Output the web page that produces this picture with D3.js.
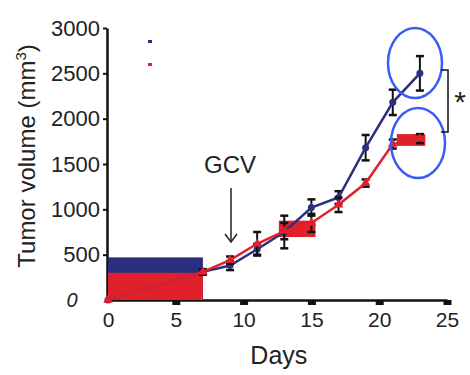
<!DOCTYPE html>
<html>
<head>
<meta charset="utf-8">
<script src="https://cdn.jsdelivr.net/npm/d3@7"></script>
<style>
  body { margin: 0; background: #fff; }
  text { font-family: "Liberation Sans", Arial, sans-serif; fill: #222; }
</style>
</head>
<body>
<svg id="chart" width="470" height="375"></svg>
<script>
const days = [0, 7, 9, 11, 13, 15, 17, 19, 21, 23];
const blueVals = [0, 310, 380, 560, 750, 1020, 1130, 1680, 2180, 2500];
const blueErr  = [0, 30, 50, 60, 180, 90, 70, 140, 140, 190];
const redVals  = [0, 310, 440, 620, 760, 850, 1050, 1290, 1720, 1780];
const redErr   = [0, 30, 40, 130, 90, 100, 80, 40, 50, 50];
const xTicks = [0, 5, 10, 15, 20, 25];
const yTicks = [500, 1000, 1500, 2000, 2500, 3000];
// patches that sit over the plot in the source figure: [day0, day1, v0, v1, colour]
const patches = [
  [0, 7, 0, 470, "#2b2f80"],
  [0, 7, 0, 300, "#e0202a"],
  [12.6, 15.3, 695, 875, "#e0202a"],
  [21.3, 23.4, 1700, 1830, "#e0202a"]
];

const svg = d3.select("#chart");
const x = d3.scaleLinear().domain([0, 25]).range([108, 447]);
const y = d3.scaleLinear().domain([0, 3000]).range([300, 28]);

// axes
const xAxis = svg.append("g").attr("transform", "translate(0,300)")
  .call(d3.axisBottom(x).tickValues(xTicks).tickSize(0).tickPadding(12));
xAxis.select(".domain").attr("stroke", "#111").attr("stroke-width", 2.5);
xAxis.selectAll("text").attr("font-size", 21).attr("font-family", "Liberation Sans, Arial").attr("fill", "#222");
xAxis.selectAll(".tick").filter(d => d > 0).append("rect")
  .attr("x", -4).attr("y", 0).attr("width", 8).attr("height", 5).attr("fill", "#111");

const yAxis = svg.append("g").attr("transform", "translate(107,0)")
  .call(d3.axisLeft(y).tickValues(yTicks).tickFormat(d3.format("d")).tickSize(4).tickPadding(3).tickSizeOuter(0));
yAxis.select(".domain").attr("stroke", "#111").attr("stroke-width", 2.5);
yAxis.selectAll("line").attr("stroke", "#111").attr("stroke-width", 2);
yAxis.selectAll("text").attr("font-size", 22).attr("font-family", "Liberation Sans, Arial").attr("fill", "#222");

svg.append("text").attr("x", 72).attr("y", y(0) + 7).attr("text-anchor", "middle")
  .attr("font-size", 20).attr("font-family", "DejaVu Serif, serif").style("font-style", "italic").text("0");

svg.append("text").attr("transform", `translate(35,${(y(0) + y(3000)) / 2 - 8}) rotate(-90)`)
  .attr("text-anchor", "middle").attr("font-size", 24)
  .html('Tumor volume (mm<tspan dy="-9" font-size="15">3</tspan><tspan dy="9">)</tspan>');
svg.append("text").attr("x", x(12.6)).attr("y", 364).attr("text-anchor", "middle")
  .attr("font-size", 25).text("Days");

// patches
svg.selectAll(".patch").data(patches).join("rect")
  .attr("x", d => x(d[0])).attr("width", d => x(d[1]) - x(d[0]))
  .attr("y", d => y(d[3])).attr("height", d => y(d[2]) - y(d[3]))
  .attr("fill", d => d[4]);

// series
const series = [
  {vals: blueVals, err: blueErr, color: "#2b2f80"},
  {vals: redVals, err: redErr, color: "#e0202a"}
];
const line = d3.line().x(d => x(d[0])).y(d => y(d[1]));
series.forEach((s, si) => {
  const pts = days.map((d, i) => [d, s.vals[i], s.err[i]]);
  const g = svg.append("g");
  const eb = g.selectAll(".eb").data(pts.filter(p => p[2] > 0)).join("g");
  eb.append("line").attr("x1", d => x(d[0])).attr("x2", d => x(d[0]))
    .attr("y1", d => y(d[1] - d[2])).attr("y2", d => y(d[1] + d[2]))
    .attr("stroke", "#111").attr("stroke-width", 2);
  [-1, 1].forEach(sg => {
    eb.append("line").attr("x1", d => x(d[0]) - 4).attr("x2", d => x(d[0]) + 4)
      .attr("y1", d => y(d[1] + sg * d[2])).attr("y2", d => y(d[1] + sg * d[2]))
      .attr("stroke", "#111").attr("stroke-width", 2.5);
  });
  g.append("path").datum(pts).attr("d", line).attr("fill", "none")
    .attr("stroke", s.color).attr("stroke-width", 2.5);
  if (si === 0) {
    g.selectAll(".m").data(pts).join("circle").attr("cx", d => x(d[0])).attr("cy", d => y(d[1]))
      .attr("r", 3.5).attr("fill", s.color);
  } else {
    g.selectAll(".m").data(pts).join("path")
      .attr("transform", d => `translate(${x(d[0])},${y(d[1])})`)
      .attr("d", d3.symbol(d3.symbolTriangle, 40)).attr("fill", s.color);
  }
});

// legend remnants
svg.append("rect").attr("x", 148).attr("y", 40).attr("width", 4).attr("height", 3).attr("fill", "#2b2f80");
svg.append("rect").attr("x", 148).attr("y", 63).attr("width", 4).attr("height", 3).attr("fill", "#e0202a");

// GCV arrow
svg.append("text").attr("x", 230).attr("y", 173).attr("text-anchor", "middle").attr("font-size", 24).text("GCV");
svg.append("line").attr("x1", 231).attr("x2", 231).attr("y1", 188).attr("y2", 242)
  .attr("stroke", "#222").attr("stroke-width", 1.5);
svg.append("path").attr("d", "M225,234 L231,242 L237,234").attr("fill", "none")
  .attr("stroke", "#222").attr("stroke-width", 1.5);

// highlight ellipses
svg.append("ellipse").attr("cx", 415).attr("cy", 63).attr("rx", 27).attr("ry", 35)
  .attr("fill", "none").attr("stroke", "#3b5bf5").attr("stroke-width", 2.5);
svg.append("ellipse").attr("cx", 418).attr("cy", 143).attr("rx", 27).attr("ry", 35)
  .attr("fill", "none").attr("stroke", "#3b5bf5").attr("stroke-width", 2.5);

// significance bracket
svg.append("path").attr("d", "M441,70 L448,70 L448,132 L441,132").attr("fill", "none")
  .attr("stroke", "#111").attr("stroke-width", 1.5);
svg.append("text").attr("x", 460).attr("y", 112).attr("text-anchor", "middle")
  .attr("font-size", 30).text("*");
</script>
</body>
</html>
